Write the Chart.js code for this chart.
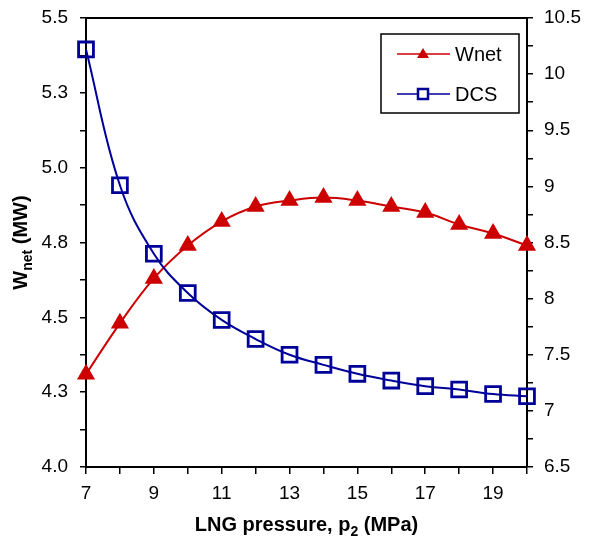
<!DOCTYPE html>
<html>
<head>
<meta charset="utf-8">
<script src="https://cdn.jsdelivr.net/npm/chart.js@4.4.0/dist/chart.umd.min.js"></script>
<style>
  html, body { margin: 0; padding: 0; background: #fff; }
  #wrap { width: 590px; height: 538px; }
</style>
</head>
<body>
<div id="wrap"><canvas id="chart" width="590" height="538"></canvas></div>
<script>
// LNG pressure p2 (MPa)
const pressure = [7, 8, 9, 10, 11, 12, 13, 14, 15, 16, 17, 18, 19, 20];
// net power (MW), left axis
const wnet = [4.31, 4.48, 4.63, 4.74, 4.82, 4.87, 4.89, 4.90, 4.89, 4.87, 4.85, 4.81, 4.78, 4.74];
// DCS, right axis
const dcs = [10.22, 9.01, 8.40, 8.05, 7.81, 7.64, 7.50, 7.41, 7.33, 7.27, 7.22, 7.19, 7.15, 7.13];

const RED = '#CC0000';
const BLUE = '#000099';
const FONT = '"Liberation Sans", Arial, sans-serif';

function toPoints(xs, ys) {
    return xs.map((x, i) => ({ x: x, y: ys[i] }));
}

// axis titles with subscripts, legend box, top frame line
const extras = {
    id: 'extras',
    afterDraw(chart) {
        const ctx = chart.ctx;
        const area = chart.chartArea;
        ctx.save();

        // top frame line
        ctx.strokeStyle = '#000';
        ctx.lineWidth = 2;
        ctx.beginPath();
        ctx.moveTo(area.left - 1, area.top);
        ctx.lineTo(area.right + 1, area.top);
        ctx.stroke();

        ctx.fillStyle = '#000';
        ctx.textBaseline = 'alphabetic';

        // x title
        const xParts = [['LNG pressure, p', 20, 0], ['2', 14, 5], [' (MPa)', 20, 0]];
        drawParts(ctx, xParts, (area.left + area.right) / 2, 531);

        // y title (rotated)
        ctx.save();
        ctx.translate(27, (area.top + area.bottom) / 2);
        ctx.rotate(-Math.PI / 2);
        const yParts = [['W', 20, 0], ['net', 14, 5], [' (MW)', 20, 0]];
        drawParts(ctx, yParts, 0, 0);
        ctx.restore();

        // legend
        const lx = 381, ly = 34, lw = 138, lh = 79;
        ctx.fillStyle = '#fff';
        ctx.fillRect(lx, ly, lw, lh);
        ctx.strokeStyle = '#000';
        ctx.lineWidth = 1.5;
        ctx.strokeRect(lx, ly, lw, lh);

        const rows = [
            { label: 'Wnet', color: RED, style: 'tri', y: 54 },
            { label: 'DCS', color: BLUE, style: 'sq', y: 94 }
        ];
        rows.forEach(r => {
            ctx.strokeStyle = r.color;
            ctx.lineWidth = 1.5;
            ctx.beginPath();
            ctx.moveTo(397, r.y);
            ctx.lineTo(450, r.y);
            ctx.stroke();
            if (r.style === 'tri') {
                ctx.fillStyle = r.color;
                ctx.beginPath();
                ctx.moveTo(423, r.y - 6);
                ctx.lineTo(429, r.y + 4);
                ctx.lineTo(417, r.y + 4);
                ctx.closePath();
                ctx.fill();
            } else {
                ctx.fillStyle = '#fff';
                ctx.lineWidth = 2.5;
                ctx.fillRect(418, r.y - 5, 10, 10);
                ctx.strokeRect(418, r.y - 5, 10, 10);
            }
            ctx.fillStyle = '#000';
            ctx.font = '20px ' + FONT;
            ctx.textAlign = 'left';
            ctx.textBaseline = 'middle';
            ctx.fillText(r.label, 455, r.y + 1);
        });

        ctx.restore();
    }
};

function drawParts(ctx, parts, cx, baseline) {
    let total = 0;
    parts.forEach(p => {
        ctx.font = 'bold ' + p[1] + 'px ' + FONT;
        total += ctx.measureText(p[0]).width;
    });
    let x = cx - total / 2;
    ctx.textAlign = 'left';
    parts.forEach(p => {
        ctx.font = 'bold ' + p[1] + 'px ' + FONT;
        ctx.fillText(p[0], x, baseline + p[2]);
        x += ctx.measureText(p[0]).width;
    });
}

const tickFont = { family: FONT, size: 19 };

function fitY(width) {
    return s => {
        s.width = width;
        s.paddingTop = 0;
        s.paddingBottom = 0;
    };
}

new Chart(document.getElementById('chart'), {
    type: 'line',
    data: {
        datasets: [
            {
                label: 'DCS',
                data: toPoints(pressure, dcs),
                yAxisID: 'y2',
                borderColor: BLUE,
                borderWidth: 2,
                backgroundColor: '#fff',
                pointStyle: 'rect',
                pointRadius: 10.5,
                pointBorderWidth: 2.8,
                pointBackgroundColor: 'rgba(255,255,255,0)',
                pointBorderColor: BLUE,
                tension: 0.4,
                clip: false,
                fill: false
            },
            {
                label: 'Wnet',
                data: toPoints(pressure, wnet),
                yAxisID: 'y',
                borderColor: RED,
                borderWidth: 2,
                pointStyle: 'triangle',
                pointRadius: 10.5,
                pointBorderWidth: 0,
                pointBackgroundColor: RED,
                pointBorderColor: RED,
                tension: 0.4,
                clip: false,
                fill: false
            }
        ]
    },
    options: {
        responsive: false,
        animation: false,
        events: [],
        layout: { padding: { top: 18, left: 0, right: 0, bottom: 0 } },
        plugins: {
            legend: { display: false },
            tooltip: { enabled: false }
        },
        scales: {
            x: {
                type: 'linear',
                min: 7,
                max: 20,
                afterFit: s => { s.height = 71; s.paddingLeft = 0; s.paddingRight = 0; },
                ticks: {
                    stepSize: 1,
                    autoSkip: false,
                    maxRotation: 0,
                    padding: 8,
                    color: '#000',
                    font: tickFont,
                    callback: v => (v % 2 === 1 ? String(v) : '')
                },
                grid: { drawOnChartArea: false, drawTicks: true, tickLength: 7, color: '#000', lineWidth: 1.5 },
                border: { display: true, color: '#000', width: 2 }
            },
            y: {
                position: 'left',
                min: 4.0,
                max: 5.5,
                afterFit: fitY(86),
                ticks: {
                    stepSize: 0.125,
                    autoSkip: false,
                    padding: 12,
                    color: '#000',
                    font: tickFont,
                    callback: v => (Math.abs(v * 4 - Math.round(v * 4)) < 1e-6 ? v.toFixed(1) : '')
                },
                grid: { drawOnChartArea: false, drawTicks: true, tickLength: 6, color: '#000', lineWidth: 1.5 },
                border: { display: true, color: '#000', width: 2 }
            },
            y2: {
                position: 'right',
                min: 6.5,
                max: 10.5,
                afterFit: fitY(63),
                ticks: {
                    stepSize: 0.25,
                    autoSkip: false,
                    padding: 11,
                    color: '#000',
                    font: tickFont,
                    callback: v => (Math.abs(v * 2 - Math.round(v * 2)) < 1e-6 ? String(v) : '')
                },
                grid: { drawOnChartArea: false, drawTicks: true, tickLength: 6, color: '#000', lineWidth: 1.5 },
                border: { display: true, color: '#000', width: 2 }
            }
        }
    },
    plugins: [extras]
});
</script>
</body>
</html>
